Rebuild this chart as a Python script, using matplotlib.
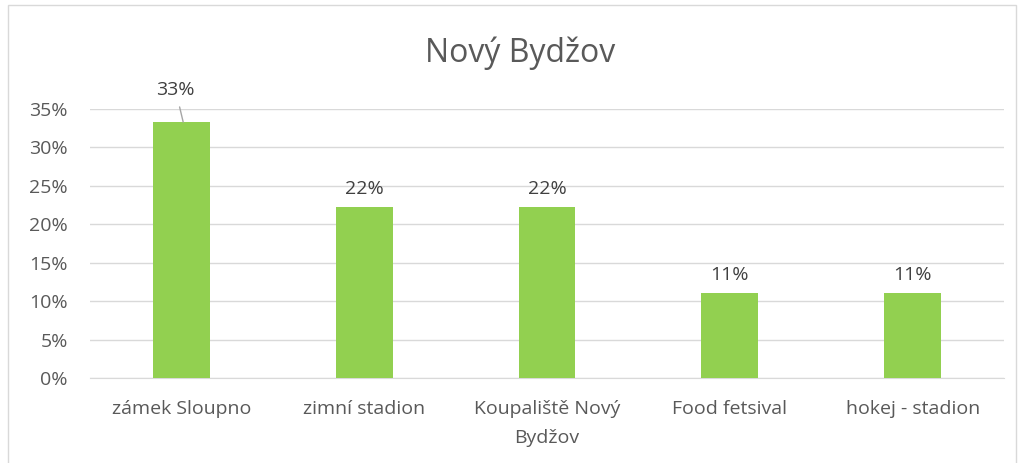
import matplotlib.pyplot as plt
from matplotlib.patches import Rectangle
from matplotlib.ticker import PercentFormatter

plt.rcParams['font.family'] = ['Open Sans', 'DejaVu Sans']

# data
categories = ['zámek Sloupno', 'zimní stadion', 'Koupaliště Nový\nBydžov',
              'Food fetsival', 'hokej - stadion']
shares = [0.333, 0.222, 0.222, 0.111, 0.111]
labels = ['33%', '22%', '22%', '11%', '11%']
y_ticks = [0, 0.05, 0.10, 0.15, 0.20, 0.25, 0.30, 0.35]

text_color = '#595959'
label_color = '#404040'
grid_color = '#D9D9D9'
bar_color = '#92D050'
fs = 14

fig = plt.figure(figsize=(10.21, 4.63), dpi=100)
ax = fig.add_axes([0.0881, 0.1836, 0.8953, 0.581])

x = range(len(categories))
ax.bar(x, shares, width=0.31, color=bar_color, zorder=3)

ax.set_xlim(-0.5, len(categories) - 0.5)
ax.set_ylim(0, 0.35)
ax.set_yticks(y_ticks)
ax.yaxis.set_major_formatter(PercentFormatter(1.0, decimals=0))
ax.set_xticks(list(x))
ax.set_xticklabels(categories, linespacing=1.75)
ax.tick_params(axis='both', length=0, labelsize=fs, colors=text_color)
ax.tick_params(axis='x', pad=16)
ax.tick_params(axis='y', pad=16)
ax.grid(axis='y', color=grid_color, linewidth=1, zorder=0)
for side in ['top', 'right', 'left']:
    ax.spines[side].set_visible(False)
ax.spines['bottom'].set_color(grid_color)
ax.spines['bottom'].set_zorder(1)

# value labels
for i, (v, lab) in enumerate(zip(shares, labels)):
    if i == 0:
        # first label is pushed up, with a leader line
        ax.annotate(lab, xy=(i + 0.01, v), xytext=(i - 0.032, v + 0.042),
                    ha='center', va='center', fontsize=fs, color=label_color,
                    arrowprops=dict(arrowstyle='-', color='#A6A6A6', lw=1,
                                    shrinkA=4, shrinkB=0),
                    annotation_clip=False)
    else:
        ax.annotate(lab, xy=(i, v), xytext=(0, 13), textcoords='offset points',
                    ha='center', va='center', fontsize=fs, color=label_color)

fig.text(0.509, 0.885, 'Nový Bydžov', ha='center', va='center',
         fontsize=23, color=text_color)

# chart border
fig.patches.append(Rectangle((8 / 1021, -0.05), 1008 / 1021, 1.0 - 5 / 463 + 0.05,
                             transform=fig.transFigure, fill=False,
                             edgecolor='#D9D9D9', linewidth=1))

fig.savefig('out.png', dpi=100)
